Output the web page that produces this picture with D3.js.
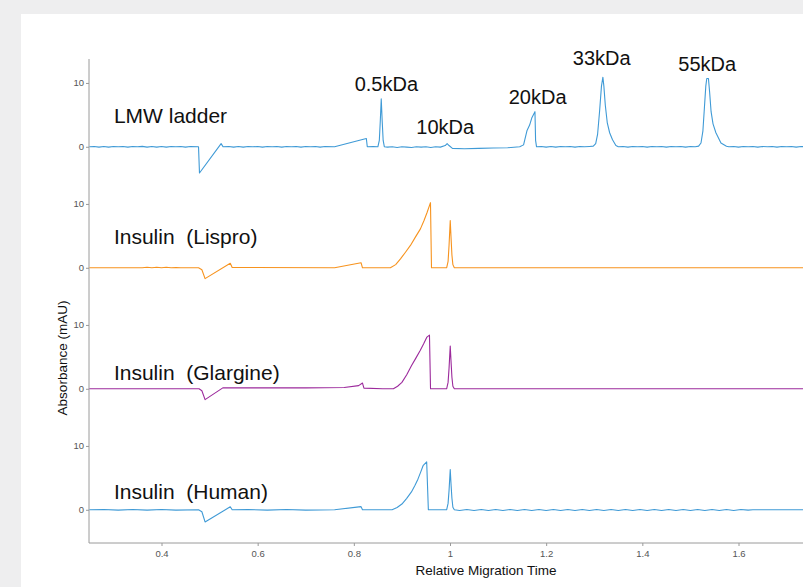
<!DOCTYPE html>
<html lang="en">
<head>
    <meta charset="UTF-8">
    <title>Insulin electropherograms</title>
    <script src="https://d3js.org/d3.v7.min.js"></script>
    <style>
        body { margin: 0; background: #eeeeef; }
        .axis path, .axis line { stroke: #9a9a9a; }
        .axis text { fill: #555; font-family: "Liberation Sans", Arial, sans-serif; font-size: 9.5px; }
        .trace { fill: none; stroke-width: 1.1px; stroke-linejoin: round; }
        .lbl { font-family: "Liberation Sans", Arial, sans-serif; font-size: 20px; fill: #111; white-space: pre; }
        .name { font-size: 21px; }
        .title { font-family: "Liberation Sans", Arial, sans-serif; font-size: 13.5px; fill: #111; }
    </style>
</head>
<body>
    <svg width="803" height="587"></svg>
    <script>
        // traces: [relative migration time, absorbance mAU]
        const ladder = [[0.25,0],[0.26,0.05],[0.27,-0.05],[0.28,0.05],[0.29,-0.05],[0.3,0.05],[0.31,0],[0.32,0.05],[0.33,-0.05],[0.34,0.05],[0.35,0],[0.36,0.07],[0.37,-0.05],[0.38,0.05],
            [0.39,-0.05],[0.4,0.05],[0.41,-0.05],[0.42,0.05],[0.43,0],[0.44,0.05],[0.45,-0.05],[0.46,0.05],[0.477,0],
            [0.479,-4.1],[0.524,0.5],[0.528,0],[0.54,0.05],[0.55,-0.05],[0.56,0.05],[0.57,-0.05],[0.58,0.05],[0.59,0],[0.6,0.05],[0.61,-0.05],[0.62,0.05],[0.63,0],[0.64,0.05],
            [0.65,-0.05],[0.66,0.05],[0.67,0],[0.68,0.05],[0.69,-0.05],[0.7,0.05],[0.71,0],[0.72,0.05],[0.73,-0.05],[0.74,0.05],[0.76,0],
            [0.826,1.3],[0.828,0],[0.84,0.05],[0.85,0],[0.853,1],[0.855,4],[0.857,7.5],[0.859,4],[0.861,1],[0.8635,0],[0.87,-0.05],[0.88,0],[0.89,-0.1],[0.9,0],[0.91,-0.05],
            [0.92,-0.1],[0.93,0],[0.94,-0.05],[0.95,0],[0.96,-0.1],[0.97,0],[0.98,-0.05],[0.99,0.2],[0.994,0.5],[0.998,0.2],
            [1.005,-0.25],[1.03,-0.3],[1.06,-0.25],[1.09,-0.2],[1.12,-0.15],[1.145,0],[1.153,0.3],[1.16,2.5],[1.1656,3.4],[1.17,4.5],[1.1767,5.5],[1.178,1],[1.18,0],[1.19,0.05],
            [1.2,-0.05],[1.21,0.05],[1.22,-0.05],[1.23,0.05],[1.24,0],[1.25,0.05],[1.26,-0.05],[1.27,0.05],[1.28,0],[1.29,0.05],[1.298,0.1],[1.303,0.5],[1.307,2],[1.311,5.5],
            [1.315,9.5],[1.318,10.9],[1.32,9.5],[1.323,6.5],[1.327,3.8],[1.332,2.2],[1.338,1.1],[1.345,0.2],[1.35,0],[1.36,0.05],[1.37,-0.05],[1.38,0.05],[1.39,0],[1.4,0.05],
            [1.41,-0.05],[1.42,0.05],[1.43,0],[1.44,0.05],[1.45,-0.05],[1.46,0.05],[1.47,0],[1.48,0.05],[1.49,-0.05],[1.5,0.05],[1.51,0],[1.517,0.1],[1.522,0.6],[1.526,2.5],
            [1.529,6],[1.532,9.5],[1.534,10.7],[1.5375,10.7],[1.54,8.5],[1.543,5.5],[1.547,3.6],[1.553,2.2],[1.5635,0.6],[1.575,0.1],[1.58,0],[1.59,0.05],[1.6,-0.05],
            [1.61,0.05],[1.62,0],[1.63,0.05],[1.64,-0.05],[1.65,0.05],[1.66,0],[1.67,0.05],[1.68,-0.05],[1.69,0.05],[1.7,0],[1.71,0.05],[1.72,-0.05],[1.73,0.05],[1.74,0]];
        const lispro = [[0.25,0],[0.36,0],[0.37,0.08],[0.38,0],[0.39,0.08],[0.4,0],[0.41,0.08],[0.42,0],[0.43,0.05],[0.44,0],[0.477,0],[0.484,-0.3],[0.4906,-1.7],
            [0.543,0.7],[0.547,0.05],[0.76,0],[0.815,0.8],[0.818,0],[0.876,0],[0.887,0.5],[0.897,1.4],[0.907,2.4],[0.9177,3.5],[0.928,4.8],[0.9385,6.1],[0.946,7.4],
            [0.9525,8.7],[0.9594,10.2],[0.9615,0],[0.993,0],[0.996,1],[0.998,3.5],[1.0005,7.4],[1.002,5],[1.004,2],[1.006,0.5],[1.009,0],[1.74,0]];
        const glargine = [[0.25,0],[0.478,0],[0.484,-0.3],[0.4906,-1.7],[0.5275,0.15],[0.6,0.15],[0.7,0.15],[0.78,0.2],[0.81,0.5],[0.818,0.9],[0.821,0.1],[0.86,0],
            [0.8823,0],[0.891,0.4],[0.9,1.0],[0.91,2.2],[0.9198,3.6],[0.929,4.8],[0.938,6.0],[0.945,7.0],[0.952,8.1],[0.9573,8.4],[0.9595,0],[0.993,0],[0.996,1],
            [0.998,3.2],[1.0005,6.7],[1.002,4.5],[1.004,1.8],[1.006,0.4],[1.009,0],[1.74,0]];
        const human = [[0.25,0],[0.28,0.05],[0.31,-0.05],[0.34,0.05],[0.37,-0.05],[0.4,0.05],[0.43,-0.05],[0.477,0],[0.484,-0.3],[0.4906,-1.9],[0.543,0.47],[0.547,0],
            [0.58,0.05],[0.62,-0.05],[0.66,0.05],[0.7,-0.05],[0.76,0],[0.815,0.5],[0.818,0],[0.8796,0],[0.89,0.35],[0.9,0.9],[0.91,1.8],[0.9198,2.8],[0.927,3.8],[0.9333,4.8],
            [0.939,5.9],[0.944,6.9],[0.9515,7.5],[0.955,0],[0.993,0],[0.996,1],[0.998,3],[1.0005,6.3],[1.002,4.2],[1.004,1.8],[1.006,0.4],[1.009,0],
            [1.02,-0.1],[1.035,0.05],[1.05,-0.1],[1.065,0.05],[1.08,-0.1],[1.095,0.05],[1.11,-0.1],[1.125,0.05],[1.14,-0.1],[1.155,0.05],[1.17,-0.1],[1.185,0.05],[1.2,-0.1],
            [1.215,0.05],[1.23,-0.1],[1.245,0.05],[1.26,-0.1],[1.275,0.05],[1.29,-0.1],[1.305,0.05],[1.32,-0.1],[1.335,0.05],[1.35,-0.1],[1.365,0.05],[1.38,-0.1],[1.395,0.05],
            [1.41,-0.1],[1.425,0.05],[1.44,-0.1],[1.455,0.05],[1.47,-0.1],[1.485,0.05],[1.5,-0.1],[1.515,0.05],[1.53,-0.1],[1.545,0.05],[1.56,-0.1],[1.575,0.05],[1.59,-0.1],
            [1.605,0.05],[1.62,-0.05],[1.63,0],[1.74,0]];

        const traces = [ladder, lispro, glargine, human];
        const traceNames = ["LMW ladder", "Insulin  (Lispro)", "Insulin  (Glargine)", "Insulin  (Human)"];
        const nameY = [3.75, 3.75, 1.3, 1.7];
        const colors = ["#3f9ad6", "#f7931e", "#9c2a9c", "#3f9ad6"];

        const peakNames = ["0.5kDa", "10kDa", "20kDa", "33kDa", "55kDa"];
        const peakX = [0.8677, 0.99, 1.1823, 1.3156, 1.535];
        const peakY = [8.75, 2.0, 6.7, 12.8, 11.9];

        const xTicks = [0.4, 0.6, 0.8, 1, 1.2, 1.4, 1.6];
        const yTicks = [0, 10];

        const svg = d3.select("svg");
        svg.append("rect").attr("x", 21).attr("y", 14).attr("width", 800).attr("height", 600).attr("fill", "#fff");

        const plotTop = 59, plotBottom = 543, plotLeft = 89;
        const panelH = (plotBottom - plotTop) / traces.length;

        const x = d3.scaleLinear().domain([0.4, 1.6]).range([161.5, 738.5]);
        x.domain([x.invert(plotLeft), x.invert(810)]).range([plotLeft, 810]);

        const ys = traces.map((t, i) => d3.scaleLinear().domain([-5.2, 13.75]).range([plotTop + panelH * (i + 1), plotTop + panelH * i]));

        // axes
        svg.append("g").attr("class", "axis")
            .attr("transform", `translate(0,${plotBottom})`)
            .call(d3.axisBottom(x).tickValues(xTicks).tickFormat(d3.format("")).tickSize(3).tickPadding(4))
            .call(g => g.select(".domain").attr("d", `M${plotLeft},0H810`));

        ys.forEach((y, i) => {
            svg.append("g").attr("class", "axis")
                .attr("transform", `translate(${plotLeft},0)`)
                .call(d3.axisLeft(y).tickValues(yTicks).tickSize(3).tickPadding(2))
                .call(g => g.select(".domain").attr("d", `M0,${plotTop + panelH * i}V${plotTop + panelH * (i + 1)}`));
        });

        // traces
        traces.forEach((t, i) => {
            const line = d3.line().x(d => x(d[0])).y(d => ys[i](d[1]));
            svg.append("path").attr("class", "trace").attr("d", line(t)).attr("stroke", colors[i]);
            svg.append("text").attr("class", "lbl name")
                .attr("x", x(0.301)).attr("y", ys[i](nameY[i]))
                .text(traceNames[i]);
        });

        peakNames.forEach((p, i) => {
            svg.append("text").attr("class", "lbl").attr("text-anchor", "middle")
                .attr("x", x(peakX[i])).attr("y", ys[0](peakY[i]))
                .text(p);
        });

        svg.append("text").attr("class", "title").attr("text-anchor", "middle")
            .attr("x", 486).attr("y", 575).text("Relative Migration Time");
        svg.append("text").attr("class", "title").attr("text-anchor", "middle")
            .attr("transform", "translate(67,358) rotate(-90)").text("Absorbance (mAU)");
    </script>
</body>
</html>
